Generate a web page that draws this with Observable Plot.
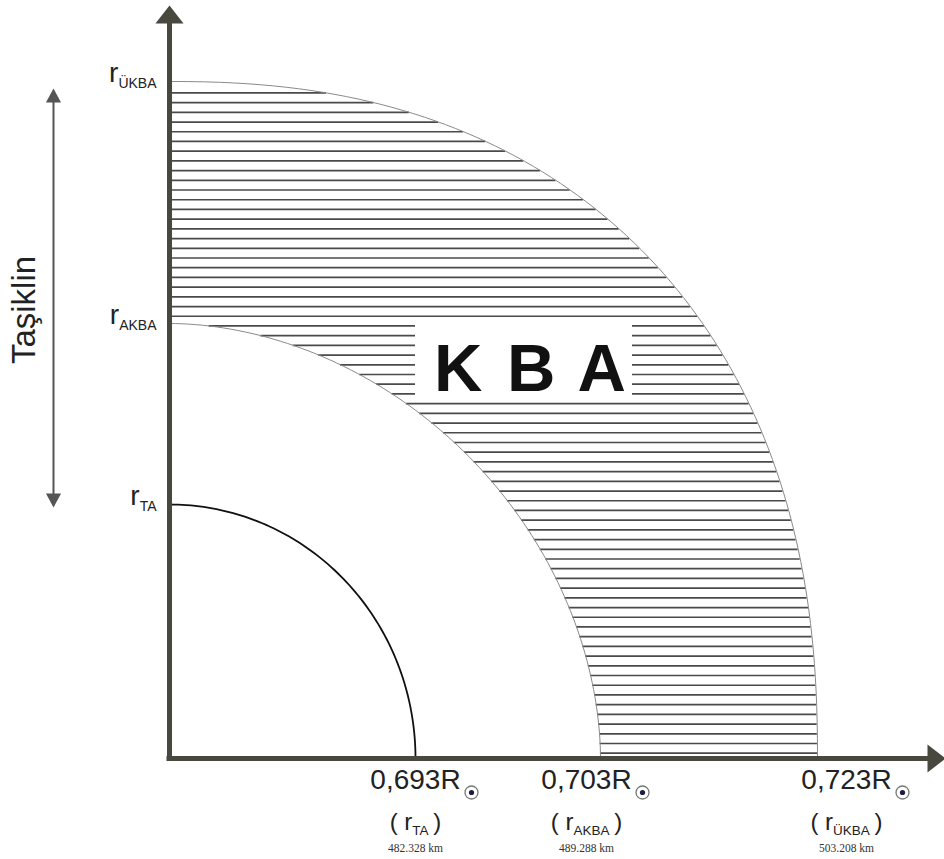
<!DOCTYPE html>
<html>
<head>
<meta charset="utf-8">
<script src="https://cdn.jsdelivr.net/npm/d3@7"></script>
<script src="https://cdn.jsdelivr.net/npm/@observablehq/plot@0.6"></script>
<style>
  body { margin: 0; background: #fff; }
  #chart svg { display: block; background: #fff; }
</style>
</head>
<body>
<div id="chart"></div>
<script>
// ---- data (schematic units: 1 unit = 1 drawing pixel) ----
const layerNames  = ["TA", "AKBA", "ÜKBA"];
const solarRadii  = ["0,693", "0,703", "0,723"];
const kmValues    = ["482.328 km", "489.288 km", "503.208 km"];
const radiusX     = [246, 431, 648];
const radiusY     = [254, 435, 677];
const sideLabel   = "Taşiklin";
const bandLabel   = "K B A";

// ---- layout / style constants ----
const SANS = "Liberation Sans, Arial, sans-serif";
const SERIF = "Liberation Serif, Times New Roman, serif";
const AXIS = "#48483f";
const labelShift = [0, -14, 29];
const roundness = [2, 1.9, 2.3];   // drawing shape of each boundary curve

// boundary x at height h (superellipse)
const ex = (i, h) => {
  const rx = radiusX[i], ry = radiusY[i], n = roundness[i];
  return h >= ry ? 0 : rx * Math.pow(1 - Math.pow(h / ry, n), 1 / n);
};

// quarter boundary points
const curvePts = [];
layerNames.forEach((name, i) => {
  const n = roundness[i];
  for (let a = 0; a <= 90; a += 1) {
    const t = a * Math.PI / 180;
    const c = Math.max(0, Math.cos(t)), s = Math.max(0, Math.sin(t));
    curvePts.push({layer: name, i, x: radiusX[i] * Math.pow(c, 2 / n), y: radiusY[i] * Math.pow(s, 2 / n)});
  }
});

// hatch pattern levels (pattern spacing, not data)
const hatch = d3.range(69).map(k => 5.3 + k * 9.71);

// arrow-head symbols
const head = (ratio, dir) => ({
  draw(ctx, size) {
    const r = Math.sqrt(size / Math.PI), w = r * ratio;
    if (dir === "up")    { ctx.moveTo(0, -r); ctx.lineTo(w, 0); ctx.lineTo(-w, 0); }
    if (dir === "down")  { ctx.moveTo(0, r);  ctx.lineTo(w, 0); ctx.lineTo(-w, 0); }
    if (dir === "right") { ctx.moveTo(r, 0);  ctx.lineTo(0, w); ctx.lineTo(0, -w); }
    ctx.closePath();
  }
});

const idx = [0, 1, 2];

const chart = Plot.plot({
  width: 944,
  height: 859,
  marginTop: 0, marginRight: 0, marginBottom: 0, marginLeft: 0,
  x: {domain: [-169, 775], axis: null},
  y: {domain: [-101, 758], axis: null},
  style: {background: "#fff", overflow: "visible"},
  marks: [
    // hatched band between AKBA and ÜKBA
    Plot.ruleY(hatch, {
      y: d => d,
      x1: d => ex(1, d),
      x2: d => ex(2, d),
      stroke: "#4a4a4a", strokeWidth: 1.7
    }),
    // boundary curves
    Plot.line(curvePts.filter(d => d.i > 0), {x: "x", y: "y", z: "layer", stroke: "#8a8a8a", strokeWidth: 1}),
    Plot.line(curvePts.filter(d => d.i === 0), {x: "x", y: "y", stroke: "#111", strokeWidth: 1.8}),
    // KBA box & label
    Plot.rect([0], {x1: radiusX[0], x2: radiusX[0] + 217, y1: radiusY[1] - 78, y2: radiusY[1], fill: "#fff"}),
    Plot.text([bandLabel], {
      x: radiusX[0] + 108, y: radiusY[1] - 67, text: d => d, lineAnchor: "bottom",
      dx: 8, fontSize: 67, fontWeight: "bold", fontFamily: SANS, fill: "#111"
    }),
    // axes
    Plot.ruleX([0], {y1: -2.5, y2: 736, stroke: AXIS, strokeWidth: 5}),
    Plot.ruleY([0], {x1: -2.5, x2: 759, stroke: AXIS, strokeWidth: 5}),
    Plot.dot([0], {x: 0, y: 735, r: 18, symbol: head(0.78, "up"), fill: AXIS, stroke: "none"}),
    Plot.dot([0], {x: 758, y: 0, r: 18, symbol: head(0.78, "right"), fill: AXIS, stroke: "none"}),
    // y labels r_xxx
    Plot.text(idx, {
      x: 0, y: i => radiusY[i], text: i => "r|" + layerNames[i],
      dx: -13, dy: 0, textAnchor: "end", lineAnchor: "bottom",
      fontSize: 28, fontFamily: SANS, fill: "#222"
    }),
    // x labels
    Plot.text(idx, {
      x: i => radiusX[i] + labelShift[i], y: 0, text: i => solarRadii[i] + "R",
      dy: 30, textAnchor: "middle", lineAnchor: "bottom",
      fontSize: 28, fontFamily: SANS, fill: "#222"
    }),
    Plot.dot(idx, {x: i => radiusX[i] + labelShift[i], y: 0, dx: 56, dy: 34, r: 6.5, fill: "#fff", stroke: "#777", strokeWidth: 1.3}),
    Plot.dot(idx, {x: i => radiusX[i] + labelShift[i], y: 0, dx: 56, dy: 34, r: 2.6, fill: "#1c1c48", stroke: "none"}),
    Plot.text(idx, {
      x: i => radiusX[i] + labelShift[i], y: 0, text: i => "( r|" + layerNames[i] + "|\u2009)",
      dy: 71, textAnchor: "middle", lineAnchor: "bottom",
      fontSize: 24, fontFamily: SANS, fill: "#222"
    }),
    Plot.text(idx, {
      x: i => radiusX[i] + labelShift[i], y: 0, text: i => kmValues[i],
      dy: 93, textAnchor: "middle", lineAnchor: "bottom",
      fontSize: 11.5, fontFamily: SERIF, fill: "#333"
    }),
    // side double arrow "Taşiklin"
    Plot.ruleX([0], {x: 0, dx: -116, y1: radiusY[0] + 8, y2: radiusY[2] - 18, stroke: "#555", strokeWidth: 2}),
    Plot.dot([0], {x: 0, dx: -116, y: radiusY[2] - 21, r: 14, symbol: head(0.54, "up"), fill: "#555", stroke: "none"}),
    Plot.dot([0], {x: 0, dx: -116, y: radiusY[0] + 11, r: 14, symbol: head(0.54, "down"), fill: "#555", stroke: "none"}),
    Plot.text([sideLabel], {
      x: 0, y: (radiusY[0] + radiusY[2]) / 2, text: d => d, dx: -135, dy: 17,
      rotate: -90, textAnchor: "middle", lineAnchor: "bottom",
      fontSize: 33, fontFamily: SANS, fill: "#222"
    })
  ]
});

// turn "a|b|c" label texts into text with subscript tspans
d3.select(chart).selectAll("text").each(function () {
  const t = d3.select(this);
  const s = t.text();
  if (s === bandLabel) { t.style("letter-spacing", "3px"); return; }
  if (!s.includes("|")) return;
  const isX = s.startsWith("(");
  const subSize = isX ? 13.5 : 14, subDy = isX ? 5 : 6;
  const [pre, sub, post] = s.split("|");
  t.text(null);
  t.append("tspan").text(pre);
  t.append("tspan").attr("font-size", subSize).attr("dy", subDy).text(sub);
  if (post) t.append("tspan").attr("dy", -subDy).text(post);
});

document.getElementById("chart").appendChild(chart);
</script>
</body>
</html>
